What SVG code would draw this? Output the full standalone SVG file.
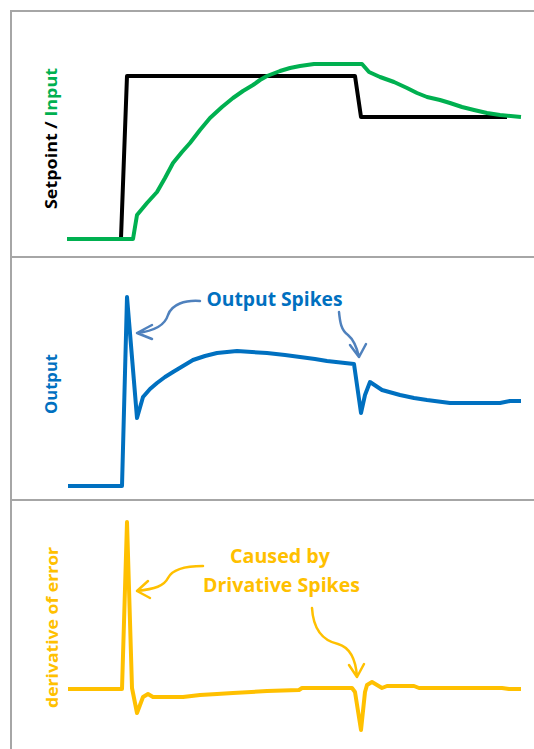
<svg xmlns="http://www.w3.org/2000/svg" width="534" height="749" viewBox="0 0 534 749">
<style>
.frame{fill:none;stroke:#A6A6A6;stroke-width:2}
.curve{fill:none;stroke-width:4;stroke-linejoin:round;stroke-linecap:butt}
.arrow{fill:none;stroke-width:2.5;stroke-linecap:round;stroke-linejoin:round}
.lbl{font-family:"Open Sans","Liberation Sans",sans-serif;font-weight:700;font-size:16px}
.note{font-family:"Open Sans","Liberation Sans",sans-serif;font-weight:700;font-size:19px}
</style>
<rect width="534" height="749" fill="#FFFFFF"/>
<g id="frame">
<path class="frame" d="M534,11 H11 V749 M11,257 H534 M11,500 H534"/>
</g>
<g id="panel-setpoint">
<polyline class="curve" stroke="#000000" points="121,238 127,76 355,76 361,117 507,117"/>
<polyline class="curve" stroke="#00B050" points="67,239 133,239 137,215 147,203 157,192 165,178 173,163 182,152 190,143 200,130 210,118 222,107 233,98 243,91 253,85 260,80 267,76 280,71 290,68 300,66 314,64 362,64 369,72 380,77 394,82 407,88 417,93 427,97 440,100 450,103 462,107 474,110 487,113 500,115 521,117"/>
<text class="lbl" transform="translate(56.5,138.5) rotate(-90)" text-anchor="middle" textLength="141" lengthAdjust="spacingAndGlyphs"><tspan fill="#000000">Setpoint / </tspan><tspan fill="#00B050">Input</tspan></text>
</g>
<g id="panel-output">
<polyline class="curve" stroke="#0070C0" points="68,486 122,486 127,297 137,418 143,397 150,389 157,383 165,377 173,372 183,366 193,360 205,356 217,353 237,351 252,352 267,353 285,355 300,357 315,359 327,361 354,364 361,413 365,395 370,382 376,386 382,390 400,395 414,398 427,400 450,403 500,403 510,401 521,401"/>
<text class="lbl" fill="#0070C0" transform="translate(57,384) rotate(-90)" text-anchor="middle" textLength="60" lengthAdjust="spacingAndGlyphs">Output</text>
<text class="note" fill="#0070C0" x="274.5" y="306" text-anchor="middle" textLength="136" lengthAdjust="spacingAndGlyphs">Output Spikes</text>
</g>
<g id="panel-derivative">
<polyline class="curve" stroke="#FFC000" points="68,689 122,689 127,522 132,688 137,713 143,697 148,694 153,697 183,697 200,695 217,694 233,693 267,691 299,690 302,688 352,688 355,692 361,730 365,692 367,685 372,682 382,688 387,686 414,686 419,688 502,688 509,689 521,689"/>
<text class="lbl" fill="#FFC000" transform="translate(58,627.5) rotate(-90)" text-anchor="middle" textLength="161" lengthAdjust="spacingAndGlyphs">derivative of error</text>
<text class="note" fill="#FFC000" x="280" y="563" text-anchor="middle" textLength="100" lengthAdjust="spacingAndGlyphs">Caused by</text>
<text class="note" fill="#FFC000" x="281.5" y="592" text-anchor="middle" textLength="157" lengthAdjust="spacingAndGlyphs">Drivative Spikes</text>
</g>
<g id="connectors">
<path class="arrow" stroke="#4F81BD" d="M200,301 C185,300 172,304 168,315 C165,325 155,331 137,333 M152,325 L137,333 L152,339"/>
<path class="arrow" stroke="#4F81BD" d="M339,312 C340,322 341,330 348,335 C354,340 357,348 359,357 M350,345 L359,357 L366,344"/>
<path class="arrow" stroke="#FFC000" d="M203,566 C185,566 172,570 168,578 C164,586 155,589 137,591 M148,581 L137,591 L150,598"/>
<path class="arrow" stroke="#FFC000" d="M312,608 C313,625 320,640 338,644 C352,648 356,662 357,677 M349,665 L357,677 L364,664"/>
</g>
</svg>
